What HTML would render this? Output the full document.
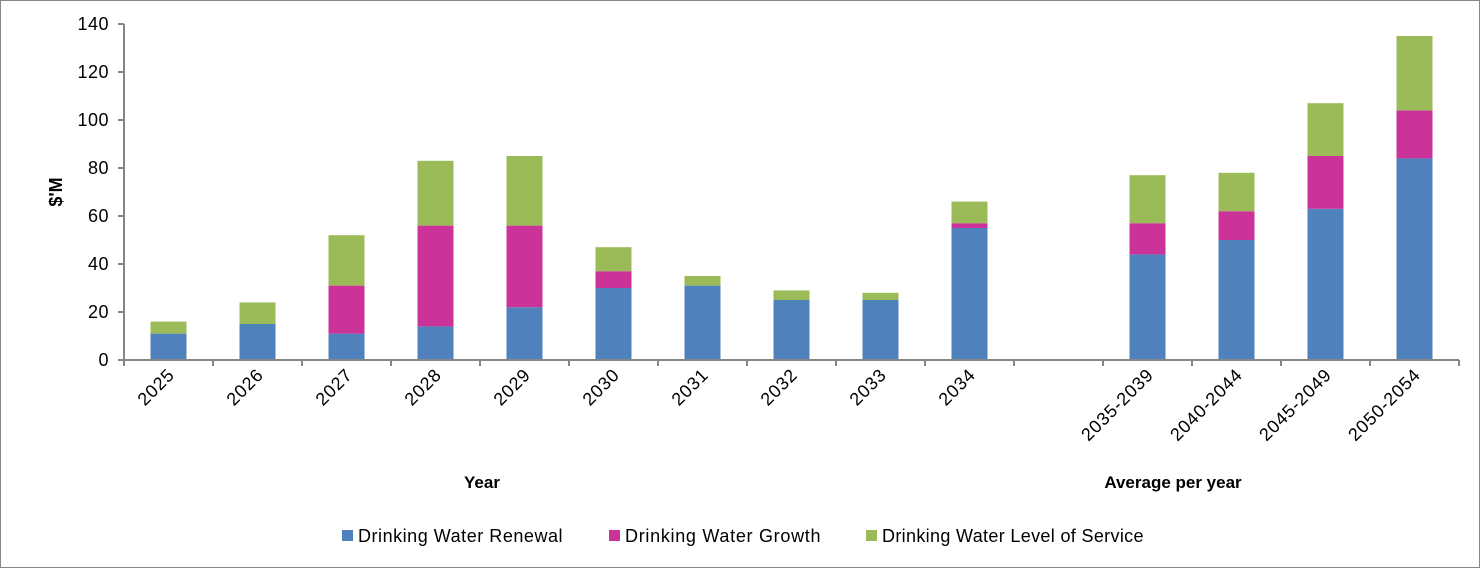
<!DOCTYPE html>
<html><head><meta charset="utf-8"><style>
html,body{margin:0;padding:0;background:#fff}
svg{display:block;font-family:"Liberation Sans",Calibri,sans-serif}
</style></head><body>
<svg width="1480" height="568" id="c">
<rect x="0.5" y="0.5" width="1479" height="567" fill="#fff" stroke="#868686"/>
<g id="g"></g>
<text x="62" y="192" font-size="18" font-weight="bold" text-anchor="middle" transform="rotate(-90 62 192)">$'M</text>
<text x="482" y="488" font-size="17" font-weight="bold" text-anchor="middle">Year</text>
<text x="1173" y="488" font-size="17" font-weight="bold" text-anchor="middle">Average per year</text>
<g font-size="18" letter-spacing="0.5">
<rect x="342" y="530" width="11" height="11" fill="#4f81bd"/>
<text x="358" y="542" textLength="205">Drinking Water Renewal</text>
<rect x="609" y="530" width="11" height="11" fill="#cc3399"/>
<text x="625" y="542" textLength="196">Drinking Water Growth</text>
<rect x="866" y="530" width="11" height="11" fill="#9bbb59"/>
<text x="882" y="542" textLength="262">Drinking Water Level of Service</text>
</g>
</svg>
<script>
const categories=["2025","2026","2027","2028","2029","2030","2031","2032","2033","2034","","2035-2039","2040-2044","2045-2049","2050-2054"];
const renewal=[11,15,11,14,22,30,31,25,25,55,null,44,50,63,84];
const growth=[0,0,20,42,34,7,0,0,0,2,null,13,12,22,20];
const levelOfService=[5,9,21,27,29,10,4,4,3,9,null,20,16,22,31];
const yTicks=[0,20,40,60,80,100,120,140];
const NS="http://www.w3.org/2000/svg";
const g=document.getElementById("g");
const x0=124,slot=89,y0=360,yTop=24,yMax=140,bw=36;
const y=v=>y0-(v/yMax)*(y0-yTop);
const xc=i=>x0+slot*(i+0.5);
function mk(t,a){const e=document.createElementNS(NS,t);for(const k in a)e.setAttribute(k,a[k]);g.appendChild(e);return e;}
yTicks.forEach(t=>{
 const l=mk("line",{x1:x0-6,x2:x0,y1:y(t),y2:y(t),stroke:"#868686","stroke-width":2});
 
 
 const tx=mk("text",{x:x0-15,y:y(t)+6,"font-size":18,"text-anchor":"end","letter-spacing":0.5});
 tx.textContent=t;
 
 
});
const series=[[renewal,"#4f81bd","renewal"],[growth,"#cc3399","growth"],[levelOfService,"#9bbb59","los"]];
categories.forEach((c,i)=>{
 if(renewal[i]==null)return;
 let base=0;
 series.forEach(([arr,col,nm])=>{
  const v=arr[i];
  if(v>0){
   const r=mk("rect",{x:xc(i)-bw/2,y:y(base+v),width:bw,height:y(base)-y(base+v),fill:col});
   
   
  }
  base+=v;
 });
});
categories.forEach((c,i)=>{
 if(!c)return;
 const cx=xc(i)+7,cy=376;
 const t=mk("text",{x:cx,y:cy,"font-size":18,"letter-spacing":0.8,"text-anchor":"end",transform:`rotate(-45 ${cx} ${cy})`});
 t.textContent=c;
 
 
});
for(let i=0;i<=categories.length;i++){
 const l=mk("line",{x1:x0+slot*i,x2:x0+slot*i,y1:y0,y2:y0+6,stroke:"#868686","stroke-width":2});
 
 
}
const ax=mk("line",{x1:x0,x2:x0,y1:yTop,y2:y0,stroke:"#868686","stroke-width":2});


const bx=mk("line",{x1:x0-6,x2:x0+slot*categories.length,y1:y0,y2:y0,stroke:"#868686","stroke-width":2});


</script>
</body></html>
